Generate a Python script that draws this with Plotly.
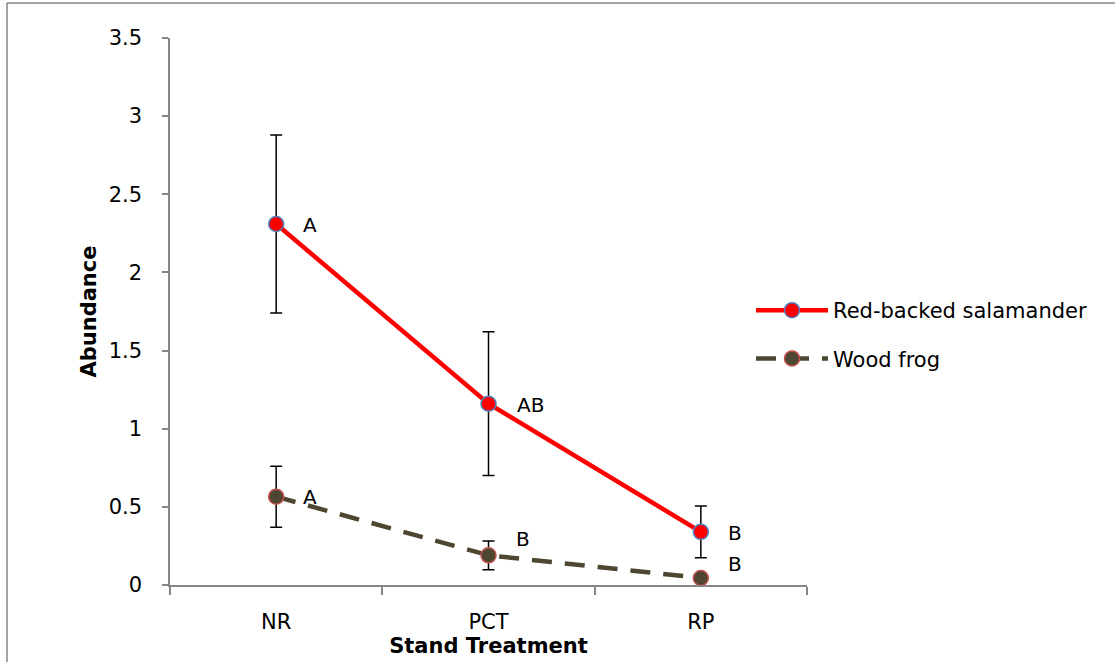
import plotly.graph_objects as go

# Stand treatments
treatments = ["NR", "PCT", "RP"]

# Mean abundance and error (+/-) per treatment
salamander_mean = [2.31, 1.16, 0.34]
salamander_err = [0.57, 0.46, 0.165]
frog_mean = [0.565, 0.19, 0.045]
frog_err = [0.195, 0.092, 0.0]

# Significance group letters
salamander_letters = ["A", "AB", "B"]
frog_letters = ["A", "B", "B"]

W, H = 1115, 662
L, R, T, B = 170, 308, 38, 77
plot_w = W - L - R
plot_h = H - T - B

FONT = "DejaVu Sans"
FS = 21
AXIS_GREY = "#868686"
OLIVE = "#4D4630"

fig = go.Figure()

fig.add_trace(go.Scatter(
    x=treatments, y=salamander_mean,
    name="Red-backed salamander",
    mode="lines+markers",
    line=dict(color="#FF0000", width=4.5),
    marker=dict(symbol="circle", size=15, color="#FF0000",
                line=dict(color="#4F81BD", width=1.5)),
    error_y=dict(type="data", array=salamander_err, visible=True,
                 color="black", thickness=1.5, width=6),
    legendgroup="g1",
))

fig.add_trace(go.Scatter(
    x=treatments, y=frog_mean,
    name="Wood frog",
    mode="lines+markers",
    line=dict(color=OLIVE, width=4.5, dash="20px,13px"),
    marker=dict(symbol="circle", size=15, color=OLIVE,
                line=dict(color="#C0504D", width=1.5)),
    error_y=dict(type="data", array=frog_err, visible=True,
                 color="black", thickness=1.5, width=6),
    legendgroup="g2",
))

# Group letters beside each point
sal_shift = [(25, -1), (26, -1), (25, -1)]
frog_shift = [(25, 0), (25, 16), (25, 14)]
for i, cat in enumerate(treatments):
    fig.add_annotation(x=cat, y=salamander_mean[i], text=salamander_letters[i],
                       showarrow=False, xanchor="left", yanchor="middle",
                       xshift=sal_shift[i][0], yshift=sal_shift[i][1],
                       font=dict(family=FONT, size=FS - 1, color="black"))
    fig.add_annotation(x=cat, y=frog_mean[i], text=frog_letters[i],
                       showarrow=False, xanchor="left", yanchor="middle",
                       xshift=frog_shift[i][0], yshift=frog_shift[i][1],
                       font=dict(family=FONT, size=FS - 1, color="black"))

# Outer frame (left and top edges visible)
fx = (7 - L) / plot_w
fy = (H - B - 3) / plot_h
fig.add_shape(type="line", xref="paper", yref="paper",
              x0=fx, x1=fx, y0=-0.5, y1=fy,
              line=dict(color=AXIS_GREY, width=1.5))
fig.add_shape(type="line", xref="paper", yref="paper",
              x0=fx, x1=2.0, y0=fy, y1=fy,
              line=dict(color=AXIS_GREY, width=1.5))

fig.update_layout(
    width=W, height=H,
    margin=dict(l=L, r=R, t=T, b=B, autoexpand=False),
    paper_bgcolor="white", plot_bgcolor="white",
    font=dict(family=FONT, size=FS, color="black"),
    showlegend=True,
    legend=dict(x=(751 - L) / plot_w, y=(H - B - 290) / plot_h,
                xanchor="left", yanchor="top",
                font=dict(family=FONT, size=FS, color="black"),
                itemwidth=72, tracegroupgap=18,
                bgcolor="rgba(0,0,0,0)"),
    xaxis=dict(
        type="category", range=[-0.5, 2.5],
        showline=True, linecolor=AXIS_GREY, linewidth=1.5,
        ticks="outside", tickson="boundaries", ticklen=8,
        tickcolor=AXIS_GREY, tickwidth=1.5,
        ticklabelstandoff=17,
        showgrid=False, zeroline=False,
        tickfont=dict(family=FONT, size=FS),
        title=dict(text="<b>Stand Treatment</b>", standoff=0,
                   font=dict(family=FONT, size=FS)),
    ),
    yaxis=dict(
        range=[0, 3.5], tickvals=[0, 0.5, 1, 1.5, 2, 2.5, 3, 3.5],
        ticktext=["0", "0.5", "1", "1.5", "2", "2.5", "3", "3.5"],
        showline=True, linecolor=AXIS_GREY, linewidth=1.5,
        ticks="outside", ticklen=6, tickcolor=AXIS_GREY, tickwidth=1.5,
        ticklabelstandoff=16,
        showgrid=False, zeroline=False,
        tickfont=dict(family=FONT, size=FS),
        title=dict(text="<b>Abundance</b>", standoff=6,
                   font=dict(family=FONT, size=FS)),
    ),
)

fig.write_html("out.html")
